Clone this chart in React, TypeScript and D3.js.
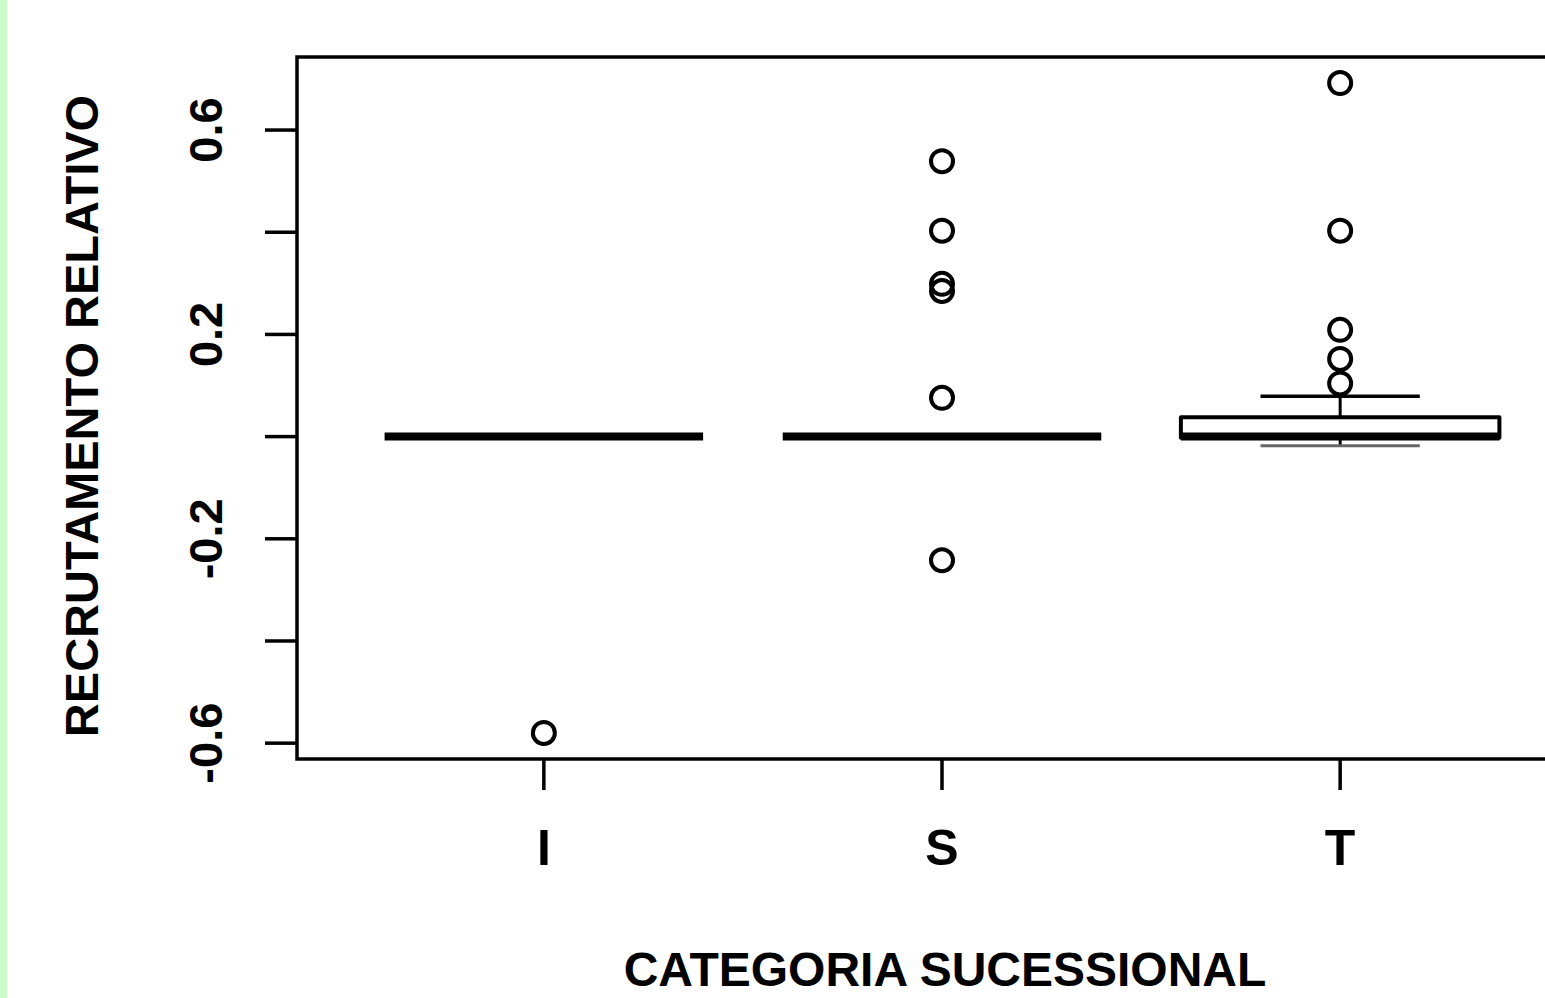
import React from 'react';
import * as d3 from 'd3';

// categorias sucessionais e estatísticas do boxplot
const categories = ['I', 'S', 'T'];
const lowerWhisker = [0, 0, -0.018];
const q1 = [0, 0, -0.002];
const median = [0, 0, 0];
const q3 = [0, 0, 0.038];
const upperWhisker = [0, 0, 0.079];
const outliers = [
	[-0.58],
	[0.539, 0.403, 0.299, 0.285, 0.076, -0.242],
	[0.692, 0.403, 0.209, 0.152, 0.104],
];
const yTicks = [-0.6, -0.4, -0.2, 0, 0.2, 0.4, 0.6];
const yTickLabels = ['-0.6', '', '-0.2', '', '0.2', '', '0.6'];

const W = 1545,
	H = 998,
	left = 297,
	top = 57,
	bottom = 759,
	right = 1587;

const font = '"Liberation Sans", Arial, sans-serif';

const App = () => {
	const x = d3.scaleLinear().domain( [ 0.38, 3.62 ] ).range( [ left, right ] ),
		y = d3.scaleLinear().domain( [ -0.631, 0.743 ] ).range( [ bottom, top ] ),
		boxHalf = ( x( 1.4 ) - x( 1 ) ),
		capHalf = boxHalf / 2;

	return (
		<svg width={W} height={H} style={{ position: 'absolute', left: 0, top: 0, background: '#fff' }}>
			<rect x={0} y={0} width={7} height={H} fill="#cdfccd" />

			{categories.map( ( c, i ) => {
				const cx = x( i + 1 );
				return (
					<g key={c} stroke="#000" fill="none">
						{/* whiskers */}
						<line x1={cx} x2={cx} y1={y( q3[i] )} y2={y( upperWhisker[i] )} strokeWidth={3} />
						<line x1={cx} x2={cx} y1={y( q1[i] )} y2={y( lowerWhisker[i] )} strokeWidth={3} />
						{upperWhisker[i] !== q3[i] && (
							<line x1={cx - capHalf} x2={cx + capHalf} y1={y( upperWhisker[i] )} y2={y( upperWhisker[i] )} strokeWidth={3.5} />
						)}
						{lowerWhisker[i] !== q1[i] && (
							<line x1={cx - capHalf} x2={cx + capHalf} y1={y( lowerWhisker[i] )} y2={y( lowerWhisker[i] )} strokeWidth={3} stroke="#666" />
						)}
						{/* box */}
						<rect
							x={cx - boxHalf}
							y={y( q3[i] )}
							width={boxHalf * 2}
							height={Math.max( 0, y( q1[i] ) - y( q3[i] ) )}
							fill="#fff"
							strokeWidth={4}
							strokeLinejoin="round"
						/>
						<line x1={cx - boxHalf} x2={cx + boxHalf} y1={y( median[i] )} y2={y( median[i] )} strokeWidth={8} />
						{outliers[i].map( ( v, j ) => (
							<circle key={j} cx={cx} cy={y( v )} r={11} strokeWidth={4} />
						) )}
					</g>
				);
			} )}

			{/* moldura */}
			<rect x={left} y={top} width={right - left} height={bottom - top} fill="none" stroke="#000" strokeWidth={3.5} />

			{/* eixo y */}
			{yTicks.map( ( t, i ) => (
				<g key={t}>
					<line x1={left - 32} x2={left} y1={y( t )} y2={y( t )} stroke="#000" strokeWidth={3.5} />
					{yTickLabels[i] && (
						<text
							transform={`translate(222,${y( t )}) rotate(-90)`}
							textAnchor="middle"
							fontFamily={font}
							fontWeight="bold"
							fontSize={47}
						>
							{yTickLabels[i]}
						</text>
					)}
				</g>
			) )}

			{/* eixo x */}
			{categories.map( ( c, i ) => (
				<g key={c}>
					<line x1={x( i + 1 )} x2={x( i + 1 )} y1={bottom} y2={790} stroke="#000" strokeWidth={3.5} />
					<text x={x( i + 1 )} y={865} textAnchor="middle" fontFamily={font} fontWeight="bold" fontSize={50}>
						{c}
					</text>
				</g>
			) )}

			<text x={945} y={986} textAnchor="middle" fontFamily={font} fontWeight="bold" fontSize={48}>
				CATEGORIA SUCESSIONAL
			</text>
			<text
				transform="translate(98,416) rotate(-90)"
				textAnchor="middle"
				fontFamily={font}
				fontWeight="bold"
				fontSize={47}
			>
				RECRUTAMENTO RELATIVO
			</text>
		</svg>
	);
};

export default App;
